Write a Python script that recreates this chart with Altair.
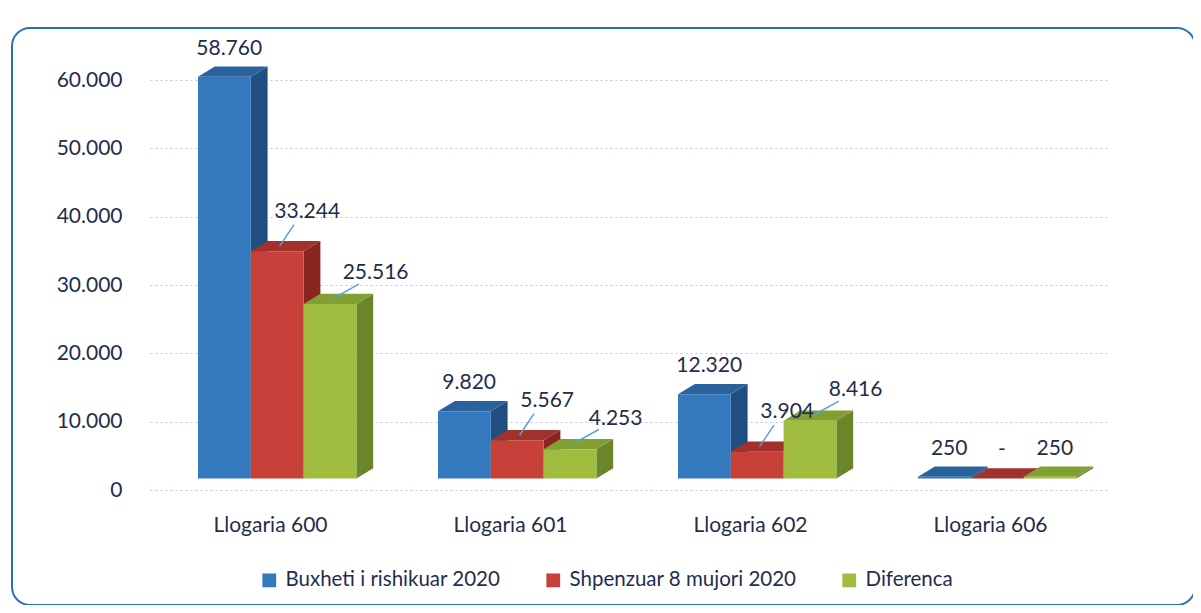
import json
import altair as alt
import pandas as pd

# ---- data ----
categories = ["Llogaria 600", "Llogaria 601", "Llogaria 602", "Llogaria 606"]
series = ["Buxheti i rishikuar 2020", "Shpenzuar 8 mujori 2020", "Diferenca"]
buxheti = [58760, 9820, 12320, 250]
shpenzuar = [33244, 5567, 3904, 0]
diferenca = [25516, 4253, 8416, 250]
y_ticks = [0, 10000, 20000, 30000, 40000, 50000, 60000]

# ---- styling ----
front_colors = ["#3479bd", "#c8403a", "#9fbc3e"]
side_colors = ["#1f4f80", "#8a2522", "#6a8628"]
top_colors = ["#2a629d", "#a2302b", "#82a032"]
TEXT = "#1f2d4d"
FONT = "Lato"

GROUP_START = 0.2
BAR_W = 0.22
DEPTH_X = 0.07
DEPTH_Y = 1500
FLOOR = 1700  # 3D floor offset of the front faces

# label placement per series: (dx, label dy, leader end dx, leader end dy)
LABEL_OFFSETS = {1: (0.125, 5800, 0.07, 3900), 2: (0.19, 4500, 0.12, 2900)}

values = [buxheti, shpenzuar, diferenca]
front, side, top, labels, leaders = [], [], [], [], []
for i, cat in enumerate(categories):
    for j, s in enumerate(series):
        v = values[j][i]
        b = FLOOR
        t = v + FLOOR
        x0 = i + GROUP_START + j * BAR_W
        x1 = x0 + BAR_W
        xc = (x0 + x1) / 2
        bid = f"{i}-{j}"
        front.append(dict(id=bid, series=s, x0=x0, x1=x1, y0=b, y1=t))
        side += [
            dict(id=bid, series=s, x=x1, lo=b, hi=t),
            dict(id=bid, series=s, x=x1 + DEPTH_X, lo=b + DEPTH_Y, hi=t + DEPTH_Y),
        ]
        top += [
            dict(id=bid, series=s, x=x0, lo=t, hi=t),
            dict(id=bid, series=s, x=x0 + DEPTH_X, lo=t, hi=t + DEPTH_Y),
            dict(id=bid, series=s, x=x1, lo=t, hi=t + DEPTH_Y),
            dict(id=bid, series=s, x=x1 + DEPTH_X, lo=t + DEPTH_Y, hi=t + DEPTH_Y),
        ]
        txt = "-" if v == 0 else f"{v:,}".replace(",", ".")
        if j > 0 and v >= 1000:
            ldx, ldy, edx, edy = LABEL_OFFSETS[j]
            labels.append(dict(text=txt, x=xc + ldx, y=t + ldy))
            leaders.append(dict(x=xc + 0.01, y=t + DEPTH_Y * 0.5,
                                x2=xc + edx, y2=t + edy))
        else:
            labels.append(dict(text=txt, x=xc + 0.02, y=t + DEPTH_Y + 2600))

df_front = pd.DataFrame(front)
df_side = pd.DataFrame(side)
df_top = pd.DataFrame(top)
df_labels = pd.DataFrame(labels)
df_leaders = pd.DataFrame(leaders)

xscale = alt.Scale(domain=[0, 4], nice=False, zero=False)
yscale = alt.Scale(domain=[0, 60000], nice=False)

label_expr_x = json.dumps(categories) + "[round(datum.value - 0.5)]"

x_axis = alt.Axis(values=[0.5, 1.5, 2.5, 3.5], labelExpr=label_expr_x,
                  domain=False, ticks=False, grid=False, title=None,
                  labelFontSize=21, labelPadding=24, labelColor=TEXT, labelFont=FONT)
y_axis = alt.Axis(values=y_ticks,
                  labelExpr="replace(format(datum.value, ','), regexp(',', 'g'), '.')",
                  domain=False, ticks=False, title=None, grid=True,
                  gridColor="#bcc7dd", gridDash=[2, 3], gridWidth=1,
                  labelFontSize=21, labelPadding=28, labelColor=TEXT, labelFont=FONT)

side_layer = alt.Chart(df_side).mark_area(orient="vertical").encode(
    x=alt.X("x:Q", scale=xscale, axis=x_axis),
    y=alt.Y("hi:Q", scale=yscale, stack=None, axis=y_axis),
    y2="lo:Q",
    detail="id:N",
    color=alt.Color("series:N", scale=alt.Scale(domain=series, range=side_colors), legend=None),
)

top_layer = alt.Chart(df_top).mark_area(orient="vertical").encode(
    x=alt.X("x:Q", scale=xscale, axis=x_axis),
    y=alt.Y("hi:Q", scale=yscale, stack=None, axis=y_axis),
    y2="lo:Q",
    detail="id:N",
    color=alt.Color("series:N", scale=alt.Scale(domain=series, range=top_colors), legend=None),
)

front_layer = alt.Chart(df_front).mark_rect().encode(
    x=alt.X("x0:Q", scale=xscale, axis=x_axis),
    x2="x1:Q",
    y=alt.Y("y1:Q", scale=yscale, axis=y_axis),
    y2="y0:Q",
    color=alt.Color("series:N", scale=alt.Scale(domain=series, range=front_colors),
                    legend=alt.Legend(orient="none", legendX=109, legendY=490,
                                      direction="horizontal", title=None,
                                      symbolType="square", symbolSize=190,
                                      symbolStrokeWidth=0, labelFontSize=20.5,
                                      labelColor=TEXT, columnPadding=42,
                                      labelOffset=6, labelFont=FONT, labelLimit=0)),
)

leader_layer = alt.Chart(df_leaders).mark_rule(color="#5aa0d8", strokeWidth=1.5).encode(
    x=alt.X("x:Q", scale=xscale, axis=x_axis),
    x2="x2:Q",
    y=alt.Y("y:Q", scale=yscale, axis=y_axis),
    y2="y2:Q",
)

label_layer = alt.Chart(df_labels).mark_text(
    fontSize=21, color=TEXT, font=FONT, baseline="middle", align="center"
).encode(
    x=alt.X("x:Q", scale=xscale, axis=x_axis),
    y=alt.Y("y:Q", scale=yscale, axis=y_axis),
    text="text:N",
)

frame = alt.Chart(pd.DataFrame({"a": [1]})).mark_rect(
    fillOpacity=0, stroke="#2f6fb8", strokeWidth=2, cornerRadius=18
).encode(
    x=alt.value(-138), x2=alt.value(1045), y=alt.value(-52), y2=alt.value(525)
)

chart = alt.layer(
    side_layer, top_layer, front_layer, leader_layer, label_layer, frame
).resolve_scale(color="independent").properties(
    width=960, height=410,
    autosize=alt.AutoSizeParams(type="none"),
    padding={"left": 142, "top": 72, "right": 83, "bottom": 115},
).configure(font=FONT).configure_view(stroke=None)

chart.save("out.html", embed_options={"renderer": "svg", "actions": False})
